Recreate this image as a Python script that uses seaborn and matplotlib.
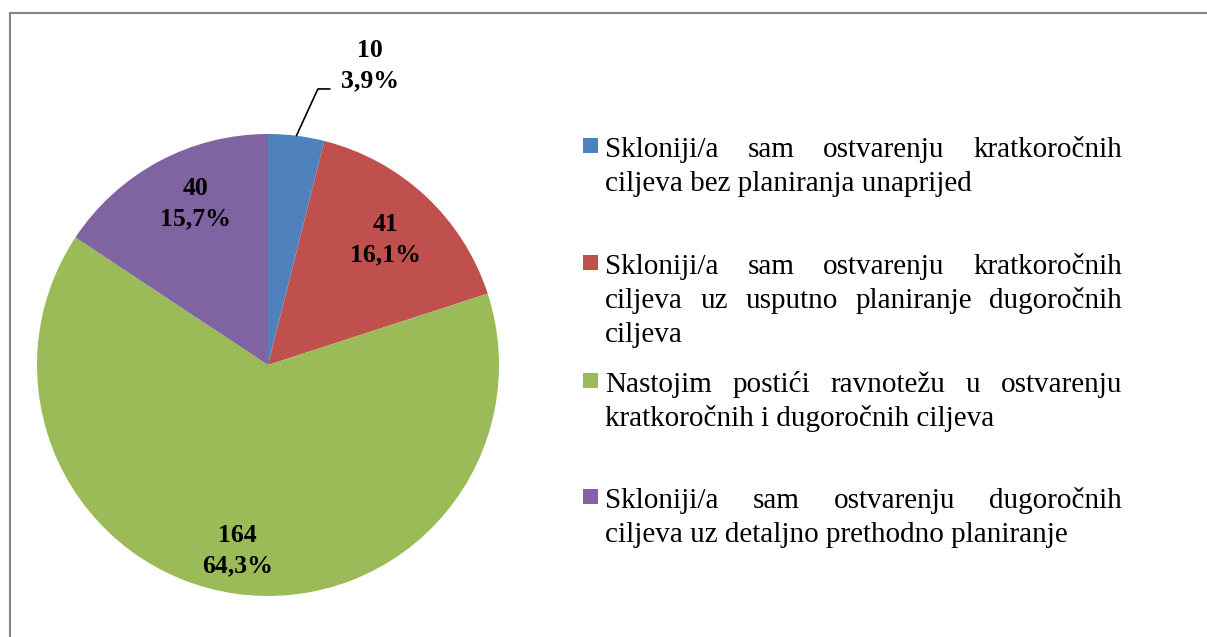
import matplotlib
matplotlib.use("Agg")
import matplotlib.pyplot as plt
import seaborn as sns
import numpy as np
from matplotlib.patches import Rectangle
from matplotlib.lines import Line2D

# ---- data ----
categories = [
    "Skloniji/a sam ostvarenju kratkoročnih\nciljeva bez planiranja unaprijed",
    "Skloniji/a sam ostvarenju kratkoročnih\nciljeva uz usputno planiranje dugoročnih\nciljeva",
    "Nastojim postići ravnotežu u ostvarenju\nkratkoročnih i dugoročnih ciljeva",
    "Skloniji/a sam ostvarenju dugoročnih\nciljeva uz detaljno prethodno planiranje",
]
counts = [10, 41, 164, 40]
percent_labels = ["3,9%", "16,1%", "64,3%", "15,7%"]
colors = ["#4F81BD", "#C0504D", "#9BBB59", "#8064A2"]

sns.set_style("white")
plt.rcParams['font.family'] = ['Liberation Serif', 'DejaVu Serif']
plt.rcParams['text.color'] = 'black'

W, H = 1207, 637
fig = plt.figure(figsize=(W / 100, H / 100), dpi=100)
fig.patch.set_facecolor("white")


def fx(px):
    return px / W


def fy(py):
    return 1 - py / H


# ---- pie ----
cx, cy, r = 268, 365, 231
ax = fig.add_axes([fx(cx - r), fy(cy + r), 2 * r / W, 2 * r / H])
wedges, _ = ax.pie(counts, colors=colors, startangle=90, counterclock=False,
                   radius=1, wedgeprops=dict(linewidth=0))
ax.set_xlim(-1, 1)
ax.set_ylim(-1, 1)
ax.set_aspect("equal")
ax.axis("off")

label_fs = 18.5
dists = [None, 0.745, 0.815, 0.765]
angle_shift = [0, 0, -1.5, -4]
for i, w in enumerate(wedges):
    theta = np.deg2rad((w.theta1 + w.theta2) / 2)
    txt = f"{counts[i]}\n{percent_labels[i]}"
    if dists[i] is None:
        # outside label with leader line
        p0 = (np.cos(theta), np.sin(theta))
        ax.add_line(Line2D([p0[0], 0.216, 0.268], [p0[1], 1.195, 1.195],
                           color="black", lw=1.2, clip_on=False))
        ax.text(0.44, 1.295, txt, ha="center", va="center", fontsize=label_fs,
                fontweight="bold", linespacing=1.4, clip_on=False)
    else:
        d = dists[i]
        th = theta + np.deg2rad(angle_shift[i])
        ax.text(d * np.cos(th), d * np.sin(th), txt, ha="center",
                va="center", fontsize=label_fs, fontweight="bold",
                linespacing=1.4)

# ---- legend (justified text) ----
leg_fs = 21
x0, x1 = 605, 1122
first_baselines = [157, 274, 392, 508]
line_step = 34
renderer = fig.canvas.get_renderer()


def text_width(s):
    t = fig.text(0, 0, s, fontsize=leg_fs)
    bb = t.get_window_extent(renderer)
    t.remove()
    return bb.width


for k, cat in enumerate(categories):
    lines = cat.split("\n")
    base = first_baselines[k]
    # marker
    fig.add_artist(Rectangle((fx(583), fy(base - 4)), 15 / W, 15 / H,
                             transform=fig.transFigure, facecolor=colors[k],
                             edgecolor="none"))
    for j, line in enumerate(lines):
        yb = base + j * line_step
        if j == len(lines) - 1:
            fig.text(fx(x0), fy(yb), line, fontsize=leg_fs, va="baseline",
                     ha="left")
        else:
            words = line.split(" ")
            widths = [text_width(wd) for wd in words]
            gap = (x1 - x0 - sum(widths)) / (len(words) - 1)
            xp = x0
            for wd, wdt in zip(words, widths):
                fig.text(fx(xp), fy(yb), wd, fontsize=leg_fs, va="baseline",
                         ha="left")
                xp += wdt + gap

# ---- frame border ----
border_col = "#868686"
fig.add_artist(Line2D([fx(9.5), 1], [fy(12.5), fy(12.5)],
                      transform=fig.transFigure, color=border_col, lw=1.5))
fig.add_artist(Line2D([fx(9.5), fx(9.5)], [fy(12.5), 0],
                      transform=fig.transFigure, color=border_col, lw=1.5))

fig.savefig("out.png", dpi=100)
